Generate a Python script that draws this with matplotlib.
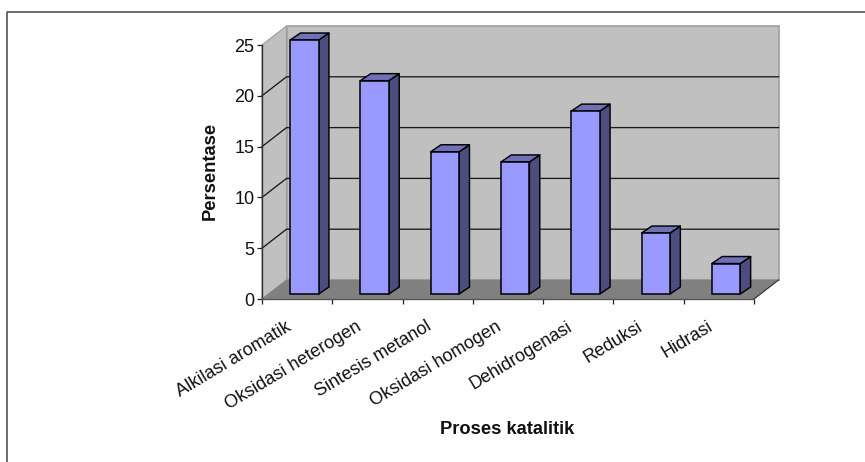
import matplotlib
matplotlib.use("Agg")
import matplotlib.pyplot as plt
from matplotlib.lines import Line2D

plt.rcParams['font.family'] = ['Liberation Sans', 'DejaVu Sans']

# Data
categories = ["Alkilasi aromatik", "Oksidasi heterogen", "Sintesis metanol",
              "Oksidasi homogen", "Dehidrogenasi", "Reduksi", "Hidrasi"]
percentages = [25, 21, 14, 13, 18, 6, 3]
y_ticks = [0, 5, 10, 15, 20, 25]
grid_levels = [5, 10, 15, 20]

# Pseudo-3D geometry, in data units
WALL_DX, WALL_DY = 0.349, 1.87
BAR_LEFT, BAR_W = 0.40, 0.405
BAR_DX, BAR_DY = 0.147, 0.69
BAR_BASE = 0.49

WALL = "#c0c0c0"
FLOOR = "#808080"
FRONT = "#9999ff"
SIDE = "#4d4d80"
TOP = "#7070b8"

W, H = 865, 462
fig = plt.figure(figsize=(W / 100, H / 100), dpi=100, facecolor="white")
ax = fig.add_axes([262 / W, (H - 299) / H, (754 - 262) / W, (299 - 45) / H])
ax.set_xlim(0, 7)
ax.set_ylim(0, 25)
ax.patch.set_visible(False)

# Outer chart frame (open towards the right and bottom)
fig.add_artist(Line2D([7.5 / W, 7.5 / W, 1], [0, 1 - 11.5 / H, 1 - 11.5 / H],
                      transform=fig.transFigure, color="#444444", lw=1.1))

n = len(categories)
ymax = y_ticks[-1]

# Side wall, back wall and floor
ax.fill([0, WALL_DX, WALL_DX, 0], [0, WALL_DY, ymax + WALL_DY, ymax],
        fc=WALL, ec="#a0a0a0", lw=0.9, clip_on=False, zorder=1)
ax.fill([WALL_DX, n + WALL_DX, n + WALL_DX, WALL_DX],
        [WALL_DY, WALL_DY, ymax + WALL_DY, ymax + WALL_DY],
        fc=WALL, ec="#a0a0a0", lw=1.2, clip_on=False, zorder=1)
ax.fill([0, n, n + WALL_DX, WALL_DX], [0, 0, WALL_DY, WALL_DY],
        fc=FLOOR, ec=FLOOR, lw=0.5, clip_on=False, zorder=2)

# Gridlines running along the side wall and across the back wall
for level in grid_levels:
    ax.plot([0, WALL_DX, n + WALL_DX], [level, level + WALL_DY, level + WALL_DY],
            color="#1a1a1a", lw=0.95, clip_on=False, zorder=3)

# Floor's right edge
ax.plot([n, n + WALL_DX], [0, WALL_DY], color="#333333", lw=0.8, clip_on=False, zorder=3)

# Bars: front face plus side and top faces
for i, value in enumerate(percentages):
    x0 = i + BAR_LEFT
    x1 = x0 + BAR_W
    b, t = BAR_BASE, BAR_BASE + value
    ax.fill([x1, x1 + BAR_DX, x1 + BAR_DX, x1], [b, b + BAR_DY, t + BAR_DY, t],
            fc=SIDE, ec="black", lw=1.05, clip_on=False, zorder=4, joinstyle="round")
    ax.fill([x0, x1, x1 + BAR_DX, x0 + BAR_DX], [t, t, t + BAR_DY, t + BAR_DY],
            fc=TOP, ec="black", lw=1.05, clip_on=False, zorder=4, joinstyle="round")
    ax.bar(x0, value, BAR_W, bottom=BAR_BASE, align="edge", color=FRONT,
           edgecolor="black", linewidth=1.1, clip_on=False, zorder=5)

# Axes, ticks and labels
for name in ("top", "right"):
    ax.spines[name].set_visible(False)
ax.spines["left"].set_color("#333333")
ax.spines["left"].set_linewidth(1.0)
ax.spines["bottom"].set_color("#555555")
ax.spines["bottom"].set_linewidth(1.0)
ax.spines["left"].set_zorder(6)
ax.spines["bottom"].set_zorder(6)

ax.set_yticks(y_ticks)
ax.set_xticks(range(n + 1))
ax.set_xticklabels([])
ax.tick_params(axis="y", length=3.5, width=0.9, color="#222222", pad=2, labelsize=13,
               labelcolor="#111111")
ax.tick_params(axis="x", length=3.5, width=0.9, color="#222222")

for i, label in enumerate(categories):
    ax.annotate(label, xy=(i + 0.5, 0), xycoords=ax.get_xaxis_transform(),
                xytext=(-5.5, -19), textcoords="offset points",
                rotation=31, rotation_mode="anchor", ha="right", va="center",
                fontsize=13, color="#111111", annotation_clip=False)

fig.text(210 / W, 1 - 171 / H, "Persentase", rotation=90, ha="center", va="center",
         fontsize=13.2, fontweight="bold", color="#111111")
fig.text(507 / W, 1 - 429 / H, "Proses katalitik", ha="center", va="center",
         fontsize=13.2, fontweight="bold", color="#111111")

fig.savefig("out.png", dpi=100, facecolor="white")
